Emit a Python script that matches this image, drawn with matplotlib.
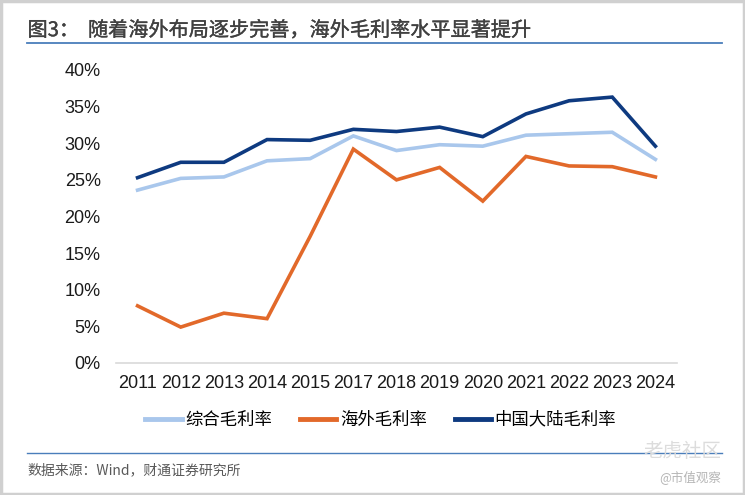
import numpy as np
import matplotlib.pyplot as plt
import matplotlib.patheffects as pe
from matplotlib.patches import Rectangle
from matplotlib.lines import Line2D
from matplotlib.ticker import FuncFormatter

plt.rcParams['font.family'] = ['Liberation Sans', 'Noto Sans CJK SC', 'DejaVu Sans']

years = ['2011', '2012', '2013', '2014', '2015', '2017', '2018',
         '2019', '2020', '2021', '2022', '2023', '2024']
total_margin = [23.6, 25.2, 25.4, 27.6, 27.9, 31.0, 29.0,
                29.8, 29.6, 31.1, 31.3, 31.5, 27.8]
overseas_margin = [7.8, 4.9, 6.8, 6.05, 17.3, 29.2, 25.0,
                   26.7, 22.1, 28.2, 26.9, 26.8, 25.4]
mainland_margin = [25.3, 27.4, 27.4, 30.5, 30.4, 31.9, 31.6,
                   32.2, 30.9, 34.0, 35.8, 36.3, 29.6]

series_names = ['综合毛利率', '海外毛利率', '中国大陆毛利率']
colors = ['#A9C7EC', '#E2692A', '#0E3A80']

fig = plt.figure(figsize=(7.45, 4.95), dpi=100)
fig.patch.set_facecolor('white')

# grey frame round the picture
fig.patches.append(Rectangle((0.002, 0.003), 0.996, 0.994, transform=fig.transFigure,
                             fill=False, edgecolor='#d0d0d0', linewidth=2.5))

ax = fig.add_axes([0.1557, 0.2667, 0.753, 0.5919])
x = np.arange(len(years))
for vals, c in zip([total_margin, overseas_margin, mainland_margin], colors):
    ax.plot(x, np.array(vals) / 100, color=c, linewidth=2.6, solid_joinstyle='miter')

ax.set_xlim(-0.5, len(years) - 0.5)
ax.set_ylim(0, 0.40)
ax.set_yticks(np.arange(0, 0.41, 0.05))
ax.yaxis.set_major_formatter(FuncFormatter(lambda v, p: '%d%%' % round(v * 100)))
ax.set_xticks(x)
ax.set_xticklabels(years)
for s in ['top', 'right', 'left']:
    ax.spines[s].set_visible(False)
ax.spines['bottom'].set_color('#d9d9d9')
ax.spines['bottom'].set_linewidth(1.2)
ax.tick_params(axis='both', length=0, labelsize=13, colors='#1a1a1a')
ax.tick_params(axis='x', pad=9)
ax.tick_params(axis='y', pad=11)

# legend
handles = [Line2D([0], [0], color=c, linewidth=3.5) for c in colors]
fig.legend(handles, series_names, loc='center', bbox_to_anchor=(0.511, 0.152),
           ncol=3, frameon=False, handlelength=2.1,
           handletextpad=0.2, columnspacing=1.6,
           prop={'family': ['Noto Sans CJK SC'], 'size': 12.5})

# title and rules
fig.text(0.037, 0.938, '图3：  随着海外布局逐步完善，海外毛利率水平显著提升',
         fontsize=14.5, color='#404040', va='center',
         family=['Noto Sans CJK SC', 'DejaVu Sans'],
         path_effects=[pe.withStroke(linewidth=0.25, foreground='#404040')])
fig.add_artist(Line2D([0.036, 0.969], [0.913, 0.913], color='#4a7ebb', linewidth=1.3))
fig.add_artist(Line2D([0.036, 0.969], [0.085, 0.085], color='#4a7ebb', linewidth=1.0))
fig.text(0.037, 0.05, '数据来源：Wind，财通证券研究所', fontsize=10, color='#595959',
         va='center', family=['Noto Sans CJK SC', 'DejaVu Sans'])

# watermark
fig.text(0.968, 0.088, '老虎社区', fontsize=14, color='#dcdcdc', ha='right', va='center',
         family=['Noto Sans CJK SC'])
fig.text(0.968, 0.035, '@市值观察', fontsize=9, color='#b5b5b5', ha='right', va='center',
         family=['Noto Sans CJK SC'])

fig.savefig('out.png', dpi=100, facecolor='white')
